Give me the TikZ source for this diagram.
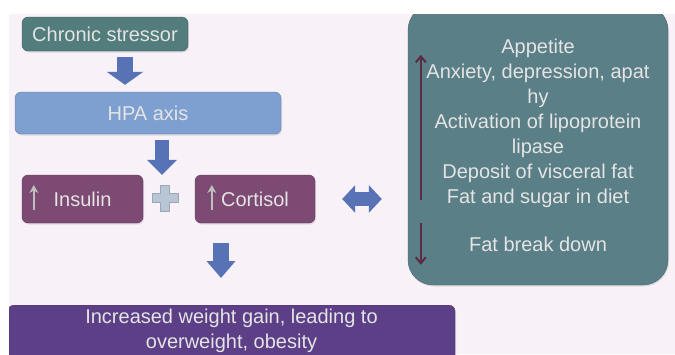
\documentclass[tikz,border=0pt]{standalone}
\usepackage{fontspec}
\setmainfont{Liberation Sans}
\usetikzlibrary{positioning, arrows.meta, calc, shadows}

\definecolor{bgpink}{HTML}{F8F1F8}
\definecolor{stressteal}{HTML}{527D7C}
\definecolor{hpablue}{HTML}{7EA0D0}
\definecolor{hormoneplum}{HTML}{7C4A72}
\definecolor{plusgray}{HTML}{B7C5D4}
\definecolor{arrowblue}{HTML}{5873B5}
\definecolor{effectteal}{HTML}{5A7F87}
\definecolor{resultpurple}{HTML}{5C3F87}
\definecolor{boxtext}{HTML}{E4E4E4}
\definecolor{maroon}{HTML}{5B2B44}

\begin{document}
\begin{tikzpicture}[
    x=1pt, y=-1pt,
    >=Stealth,
    every node/.style={align=center, font=\fontsize{20}{25}\selectfont, text=boxtext},
    box/.style={draw, rounded corners=6pt, inner sep=0pt,
        drop shadow={opacity=0.2, shadow xshift=1pt, shadow yshift=-1.5pt}},
    blockarrow/.style={draw=arrowblue, line width=15pt},
    grayup/.style={->, line width=2.4pt, draw=gray!50, >={Stealth[length=8pt, width=9pt]}},
    maroonarrow/.style={->, line width=2pt, draw=maroon, >={Straight Barb[length=6pt, width=10pt]}}
]
\useasboundingbox (0,0) rectangle (675,354);
\fill[bgpink] (9,14) rectangle (675,354);

\begin{scope}
\clip (9,14) rectangle (675,354);

% Linke Seite: Stress -> HPA
\node[box, fill=stressteal, draw=stressteal!80!black, minimum width=166pt, minimum height=34pt] (stress) at (105,34) {Chronic stressor};
\node[box, fill=hpablue, draw=hpablue!80!black, minimum width=266pt, minimum height=42pt] (hpa) at (148,113) {HPA axis};

% Hormone
\node[box, fill=hormoneplum, draw=hormoneplum!80!black, minimum width=121pt, minimum height=48pt] (insulin) at (82.5,199) {Insulin};
\node[box, fill=hormoneplum, draw=hormoneplum!80!black, minimum width=120pt, minimum height=48pt] (cortisol) at (255,199) {Cortisol};
\draw[grayup] ([xshift=12pt, yshift=-11pt]insulin.west) -- ([xshift=12pt, yshift=14pt]insulin.west);
\draw[grayup] ([xshift=17pt, yshift=-11pt]cortisol.west) -- ([xshift=17pt, yshift=14pt]cortisol.west);

% Plus
\coordinate (plus) at (165,198);
\draw[fill=plusgray, draw=plusgray!85!black] (plus) ++(-4.5,-13) -- ++(9,0) -- ++(0,8.5) -- ++(8.5,0) -- ++(0,9) -- ++(-8.5,0)
    -- ++(0,8.5) -- ++(-9,0) -- ++(0,-8.5) -- ++(-8.5,0) -- ++(0,-9) -- ++(8.5,0) -- cycle;

% Ergebnis
\node[box, fill=resultpurple, draw=resultpurple!80!black, minimum width=447pt, inner ysep=4pt, text depth=20pt, anchor=north] (result) at (231.5,305)
    {\fontsize{20}{22}\selectfont Increased weight gain, leading to\\overweight, obesity};

% Rechts: Effekte
\node[box, fill=effectteal, draw=effectteal!80!black, rounded corners=25pt, minimum width=260pt, minimum height=280pt] (effects) at (538,145)
    {Appetite\\Anxiety, depression, apat\\hy\\Activation of lipoprotein\\lipase\\Deposit of visceral fat\\Fat and sugar in diet\\[23pt]Fat break down};
\draw[maroonarrow] ($(effects.north west)+(13,195)$) -- ($(effects.north west)+(13,50)$);
\draw[maroonarrow] ($(effects.north west)+(13,218)$) -- ($(effects.north west)+(13,260)$);

% Blockpfeile
\coordinate (colA) at (125,0);
\coordinate (colB) at (162,0);
\coordinate (colC) at (221,0);
\draw[blockarrow, line width=16pt, -{Triangle[length=13pt, width=36pt]}, shorten <=6pt, shorten >=7pt]
    (stress.south -| colA) -- (hpa.north -| colA);
\draw[blockarrow, line width=14pt, -{Triangle[length=15pt, width=29pt]}, shorten <=6pt]
    (hpa.south -| colB) -- (insulin.north -| colB);
\draw[blockarrow, line width=16pt, -{Triangle[length=17pt, width=28pt]}, shorten <=20pt, shorten >=27pt]
    (cortisol.south -| colC) -- (result.north -| colC);
\draw[blockarrow, line width=14pt, {Triangle[length=13pt, width=27pt]}-{Triangle[length=13pt, width=27pt]}, shorten <=27pt, shorten >=26pt]
    (cortisol.east) -- (effects.west |- cortisol.east);
\end{scope}

\end{tikzpicture}
\end{document}
